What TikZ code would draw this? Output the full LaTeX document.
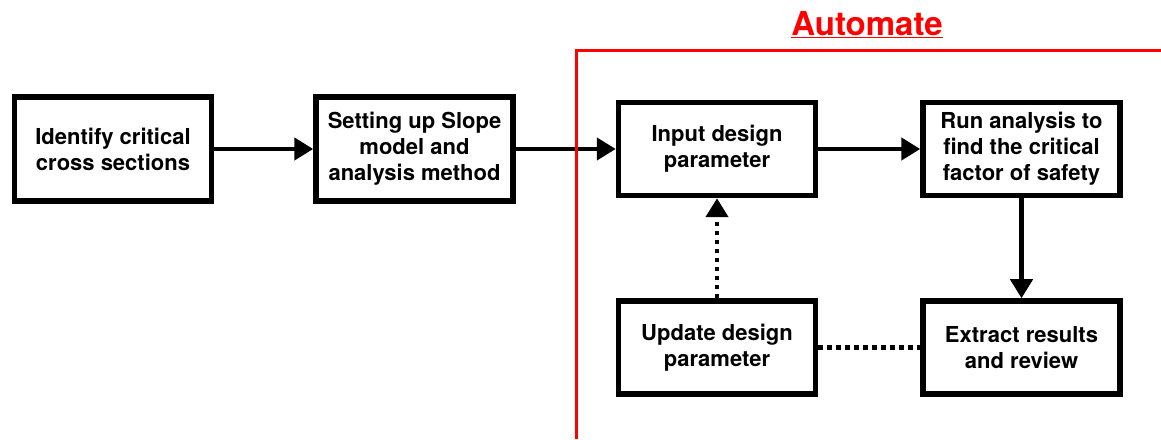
\documentclass[tikz,border=0pt]{standalone}
\usepackage{fontspec}
\setmainfont{TeX Gyre Heros}
\usepackage{xcolor}
\usepackage{tikz}
\usetikzlibrary{arrows.meta,positioning}
\tikzset{
  stage/.style={draw, line width=5.5pt, minimum width=197pt,
                minimum height=93pt, align=center, inner sep=2pt,
                font=\fontsize{22}{26}\selectfont\bfseries},
  tall/.style={stage, minimum height=104pt},
  arrow/.style={-{Triangle[length=19pt,width=22pt]}, line width=4.5pt},
  loop/.style={line width=4.5pt, dash pattern=on 4.5pt off 4.5pt},
  frame/.style={draw=red, line width=3pt}
}

\begin{document}
\begin{tikzpicture}[x=1pt, y=1pt, node distance=100pt and 99pt]
  \useasboundingbox (0,0) rectangle (1161,439);

  \node[tall] (ident) at (113,290) {Identify critical\\cross sections};
  \node[tall, right=of ident] (setup) {Setting up Slope\\model and\\analysis method};
  \node[stage, right=100pt of setup] (input) {Input design\\parameter};
  \node[stage, right=102pt of input] (run) {Run analysis to\\find the critical\\factor of safety};
  \node[stage, below=of input] (update) {Update design\\parameter};
  \node[stage, below=of run] (extract) {Extract results\\and review};

  \draw[arrow] (ident)--(setup);
  \draw[arrow] (setup)--(input);
  \draw[arrow] (input)--(run);
  \draw[arrow] (run)--(extract);
  \draw[loop, -{Triangle[length=19pt,width=22pt]}] (update)--(input);
  \draw[loop] (update)--(extract);

  % automated part
  \coordinate (fb) at (576,0);
  \coordinate (ft) at (576,388);
  \coordinate (fr) at (1161,388);
  \draw[frame] (fb)--(ft)--(fr);
  \node[text=red, font=\fontsize{33}{38}\selectfont\bfseries] (auto) at (867,414)
    {\underline{Automate}};
\end{tikzpicture}
\end{document}
